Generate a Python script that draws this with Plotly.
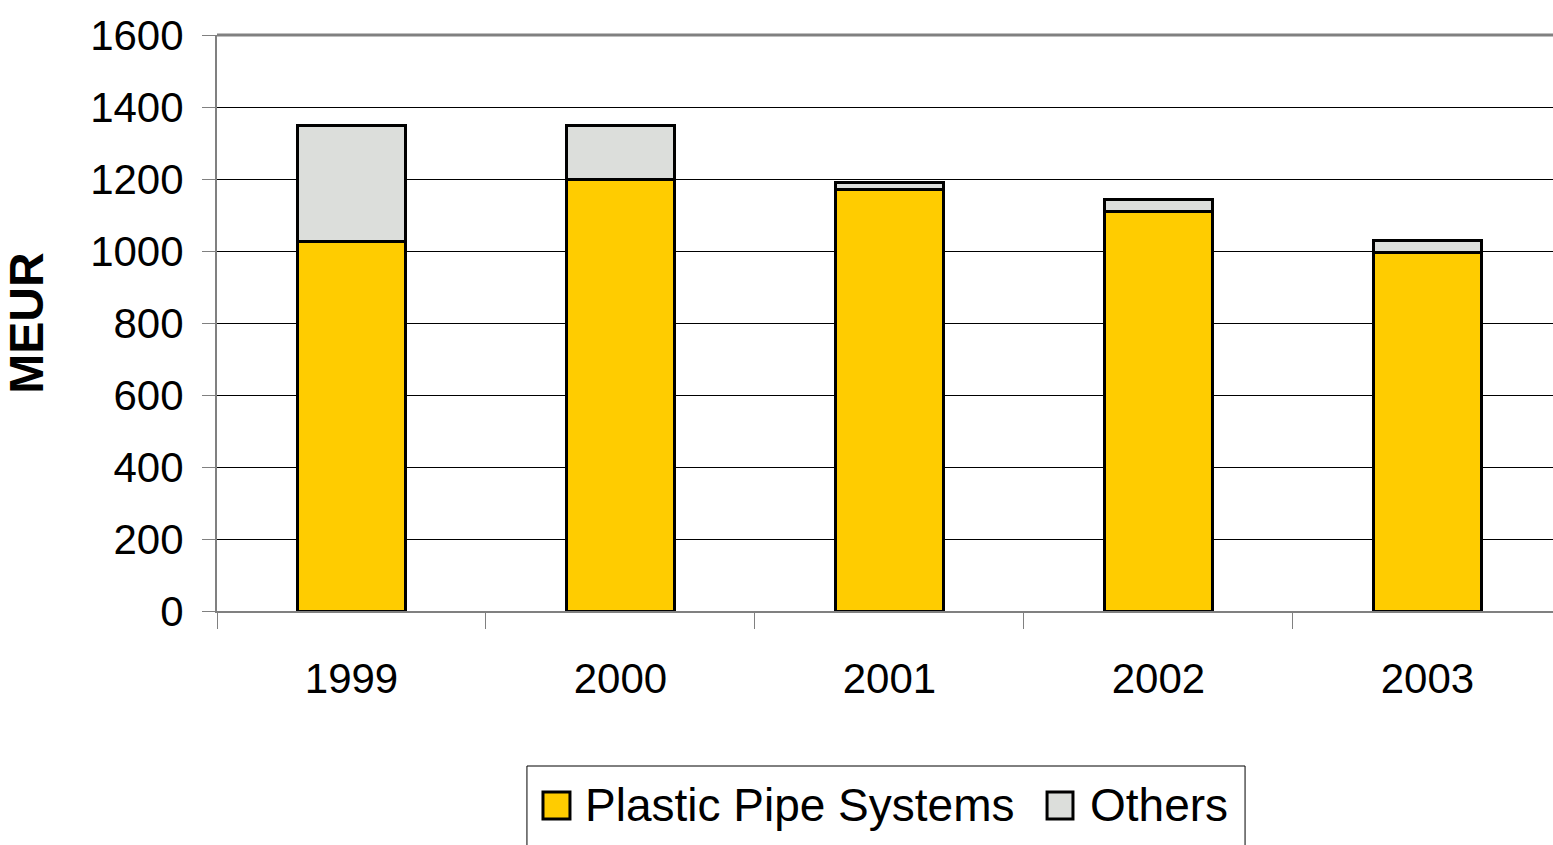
import plotly.graph_objects as go

# Sales by business segment, MEUR
years = ["1999", "2000", "2001", "2002", "2003"]
plastic_pipe = [1026, 1198, 1172, 1111, 995]
others = [324, 152, 18, 31, 33]
y_ticks = [0, 200, 400, 600, 800, 1000, 1200, 1400, 1600]

YELLOW = "#FFCC00"
GREY = "#DCDEDB"
AXIS_GREY = "#808080"
FONT = "Liberation Sans, Arial, sans-serif"

fig = go.Figure()
fig.add_trace(go.Bar(x=years, y=plastic_pipe, name="Plastic Pipe Systems",
                     marker=dict(color=YELLOW, line=dict(color="black", width=3)),
                     showlegend=False))
fig.add_trace(go.Bar(x=years, y=others, name="Others",
                     marker=dict(color=GREY, line=dict(color="black", width=3)),
                     showlegend=False))

# Heavier frame line along the top of the plot area
fig.add_shape(type="line", xref="paper", yref="paper", x0=0, x1=1, y0=1, y1=1,
              line=dict(color=AXIS_GREY, width=3), layer="above")

# Legend drawn as a framed box with large swatches
fig.add_shape(type="rect", xref="paper", yref="paper",
              x0=0.2320, x1=0.7695, y0=-0.45, y1=-0.2691,
              line=dict(color="black", width=1), fillcolor="white", layer="above")
swatches = [(YELLOW, 0.2440, 0.2642, "Plastic Pipe Systems", 0.2740),
            (GREY, 0.6213, 0.6407, "Others", 0.6520)]
for color, sx0, sx1, label, tx in swatches:
    fig.add_shape(type="rect", xref="paper", yref="paper",
                  x0=sx0, x1=sx1, y0=-0.3611, y1=-0.3142,
                  line=dict(color="black", width=3), fillcolor=color, layer="above")
    fig.add_annotation(text=label, xref="paper", yref="paper", x=tx, y=-0.3368,
                       xanchor="left", yanchor="middle", showarrow=False,
                       font=dict(family=FONT, size=46, color="black"))

fig.update_layout(
    barmode="stack",
    bargap=0.6,
    width=1553, height=845,
    margin=dict(l=217, r=0, t=35, b=234),
    plot_bgcolor="white", paper_bgcolor="white",
    font=dict(family=FONT, color="black"),
)
fig.update_xaxes(
    type="category",
    range=[-0.5, 4.467],
    tickson="boundaries",
    ticks="outside", ticklen=16, tickcolor=AXIS_GREY, tickwidth=1,
    showline=True, linecolor=AXIS_GREY, linewidth=2,
    showgrid=False,
    tickfont=dict(size=42, family=FONT),
    ticklabelstandoff=30,
)
fig.update_yaxes(
    range=[0, 1600],
    tickvals=y_ticks,
    ticks="outside", ticklen=13, tickcolor=AXIS_GREY, tickwidth=1,
    showline=True, linecolor=AXIS_GREY, linewidth=2,
    showgrid=True, gridcolor="black", gridwidth=1,
    zeroline=False,
    tickfont=dict(size=42, family=FONT),
    ticklabelstandoff=10,
    title=dict(text="<b>MEUR</b>", font=dict(size=48, family=FONT), standoff=36),
)

fig.write_html("out.html")
